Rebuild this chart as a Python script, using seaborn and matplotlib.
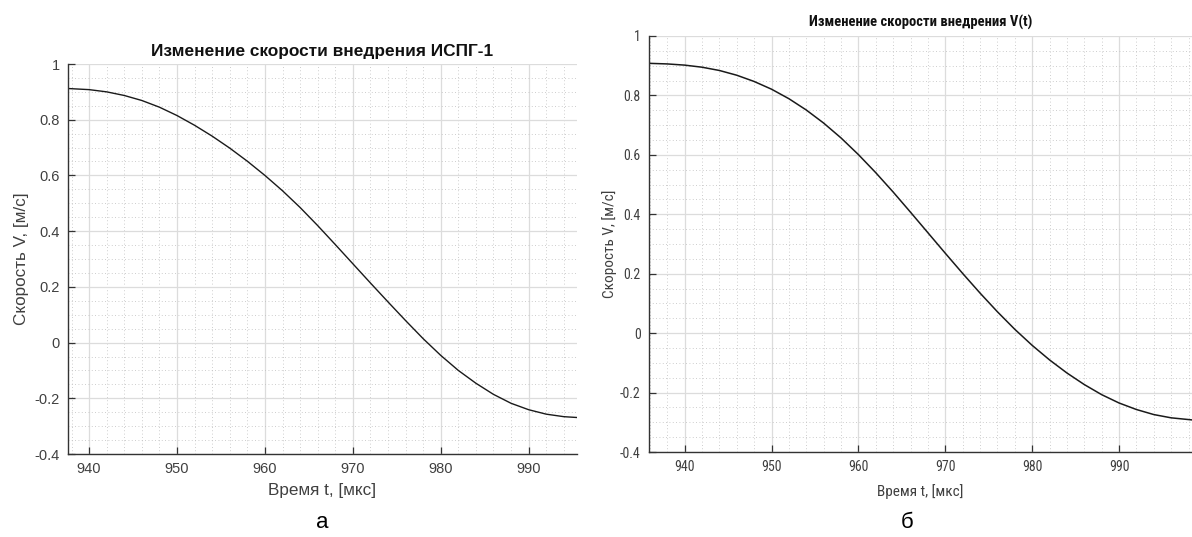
import numpy as np
import pandas as pd
import matplotlib
matplotlib.use("Agg")
import matplotlib.pyplot as plt
import seaborn as sns
from matplotlib import font_manager as fm
from matplotlib.ticker import MultipleLocator

# ---- data ----
t_a = [937.6, 940, 942, 944, 946, 948, 950, 952, 954, 956, 958, 960, 962, 964,
       966, 968, 970, 972, 974, 976, 978, 980, 982, 984, 986, 988, 990, 992,
       994, 995.5]
v_a = [0.912, 0.908, 0.900, 0.887, 0.869, 0.845, 0.815, 0.780, 0.741, 0.698,
       0.651, 0.600, 0.545, 0.485, 0.420, 0.352, 0.283, 0.214, 0.146, 0.079,
       0.014, -0.046, -0.100, -0.146, -0.186, -0.218, -0.241, -0.257, -0.266,
       -0.269]

t_b = [935.9, 938, 940, 942, 944, 946, 948, 950, 952, 954, 956, 958, 960, 962,
       964, 966, 968, 970, 972, 974, 976, 978, 980, 982, 984, 986, 988, 990,
       992, 994, 996, 998.4]
v_b = [0.908, 0.906, 0.902, 0.895, 0.884, 0.868, 0.847, 0.821, 0.789, 0.751,
       0.707, 0.657, 0.601, 0.540, 0.475, 0.407, 0.338, 0.269, 0.201, 0.135,
       0.072, 0.013, -0.041, -0.090, -0.134, -0.173, -0.207, -0.235, -0.257,
       -0.274, -0.285, -0.292]

xticks = [940, 950, 960, 970, 980, 990]
yticks = [-0.4, -0.2, 0, 0.2, 0.4, 0.6, 0.8, 1]
ytick_labels = ["-0.4", "-0.2", "0", "0.2", "0.4", "0.6", "0.8", "1"]
title_a = "Изменение скорости внедрения ИСПГ-1"
title_b = "Изменение скорости внедрения V(t)"
xlabel = "Время t, [мкс]"
ylabel = "Скорость V, [м/с]"

sns.set_theme(style="white")
avail = {f.name for f in fm.fontManager.ttflist}
regular = "Liberation Sans" if "Liberation Sans" in avail else "DejaVu Sans"
narrow = regular
for cand in ["Liberation Sans Narrow", "Roboto Condensed", "DejaVu Sans Condensed"]:
    if cand in avail:
        narrow = cand
        break
plt.rcParams["font.family"] = [regular, "DejaVu Sans"]

W, H = 1192, 537
fig = plt.figure(figsize=(W / 100, H / 100), dpi=100)
fig.patch.set_facecolor("white")


def box(l, t, r, b):
    return [l / W, 1 - b / H, (r - l) / W, (b - t) / H]


ax1 = fig.add_axes(box(68, 64, 577, 454))
ax2 = fig.add_axes(box(649, 36, 1192, 452))

df_a = pd.DataFrame({"t": t_a, "v": v_a})
df_b = pd.DataFrame({"t": t_b, "v": v_b})
sns.lineplot(data=df_a, x="t", y="v", ax=ax1, color="#1a1a1a", linewidth=1.0)
sns.lineplot(data=df_b, x="t", y="v", ax=ax2, color="#1a1a1a", linewidth=1.1)

lab_col = "#404040"


def style(ax, xlim, fam, tick_fs, lab_fs, title, title_fs, title_pad,
          xlabpad, ylabpad):
    ax.set_xlim(*xlim)
    ax.set_ylim(-0.4, 1)
    ax.set_xticks(xticks)
    ax.set_xticklabels([str(v) for v in xticks])
    ax.set_yticks(yticks)
    ax.set_yticklabels(ytick_labels)
    ax.xaxis.set_minor_locator(MultipleLocator(2))
    ax.yaxis.set_minor_locator(MultipleLocator(0.05))
    ax.grid(which="major", color="#dcdcdc", linewidth=0.9, linestyle="-")
    ax.grid(which="minor", color="#bdbdbd", linewidth=0.6, linestyle=(0, (1, 3)))
    ax.set_axisbelow(True)
    for s in ["top", "right"]:
        ax.spines[s].set_visible(False)
    for s in ["left", "bottom"]:
        ax.spines[s].set_color("#333333")
        ax.spines[s].set_linewidth(1.0)
    ax.tick_params(which="major", direction="in", length=5, width=0.9,
                   color="#333333", labelcolor=lab_col, labelsize=tick_fs,
                   bottom=True, left=True, pad=6)
    ax.tick_params(which="minor", length=0)
    for lbl in ax.get_xticklabels() + ax.get_yticklabels():
        lbl.set_family([fam, "DejaVu Sans"])
    ax.set_xlabel(xlabel, fontsize=lab_fs, color=lab_col,
                  family=[fam, "DejaVu Sans"], labelpad=xlabpad)
    ax.set_ylabel(ylabel, fontsize=lab_fs, color=lab_col,
                  family=[fam, "DejaVu Sans"], labelpad=ylabpad)
    ax.set_title(title, fontsize=title_fs, fontweight="bold", color="#111111",
                 family=[fam, "DejaVu Sans"], pad=title_pad)
    ax.set_facecolor("white")


style(ax1, (937.6, 995.5), regular, 10.5, 12.3, title_a, 12.4, 6, 5, 4)
style(ax2, (935.9, 998.4), narrow, 10, 11, title_b, 10.5, 7, 7, 2)

fig.text(322 / W, 1 - 523 / H, "а", fontsize=16, ha="center", va="center",
         color="#000000", family=[regular, "DejaVu Sans"])
fig.text(907 / W, 1 - 523 / H, "б", fontsize=16, ha="center", va="center",
         color="#000000", family=[regular, "DejaVu Sans"])

fig.savefig("out.png", dpi=100, facecolor="white")
